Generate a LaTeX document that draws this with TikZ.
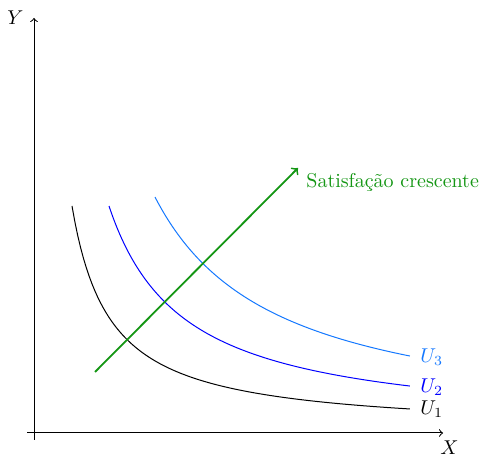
\documentclass[tikz,border=0pt]{standalone}
\usetikzlibrary{calc}
\definecolor{ulight}{RGB}{20,120,255}
\definecolor{sgreen}{RGB}{20,150,20}
\begin{document}
\begin{tikzpicture}[x=0.5pt,y=-0.5pt,
  axis/.style={->,line width=0.5pt},
  curve/.style={line width=0.5pt,samples=120},
  lbl/.style={inner sep=0pt,anchor=base west}]
\useasboundingbox (0,0) rectangle (482,458);
% axes
\coordinate (xs) at (27,433);
\coordinate (xe) at (443,433);
\coordinate (ys) at (34,440);
\coordinate (ye) at (34,18);
\draw[axis] (xs) -- (xe);
\draw[axis] (ys) -- (ye);
\node[lbl] (Xl) at (440,455) {$X$};
\node[lbl] (Yl) at (7,25) {$Y$};
% indifference curves
\draw[curve,black,domain=0.38:3.76] plot ({34+100*\x},{433-(85.81/\x+1.2)});
\draw[curve,blue,domain=0.75:3.76] plot ({34+100*\x},{433-(168.65/\x+2.1)});
\draw[curve,ulight,domain=1.21:3.76] plot ({34+100*\x},{433-(283.71/\x+1.5)});
\node[lbl,black] (u1) at (420,415) {$U_1$};
\node[lbl,blue] (u2) at (420,393) {$U_2$};
\node[lbl,ulight] (u3) at (420,363) {$U_3$};
% arrow
\coordinate (gs) at (95,372);
\coordinate (ge) at (298,168);
\draw[->,sgreen,line width=0.9pt] (gs) -- (ge);
\node[lbl,sgreen] (sat) at (306,188) {Satisfação crescente};
\end{tikzpicture}
\end{document}
